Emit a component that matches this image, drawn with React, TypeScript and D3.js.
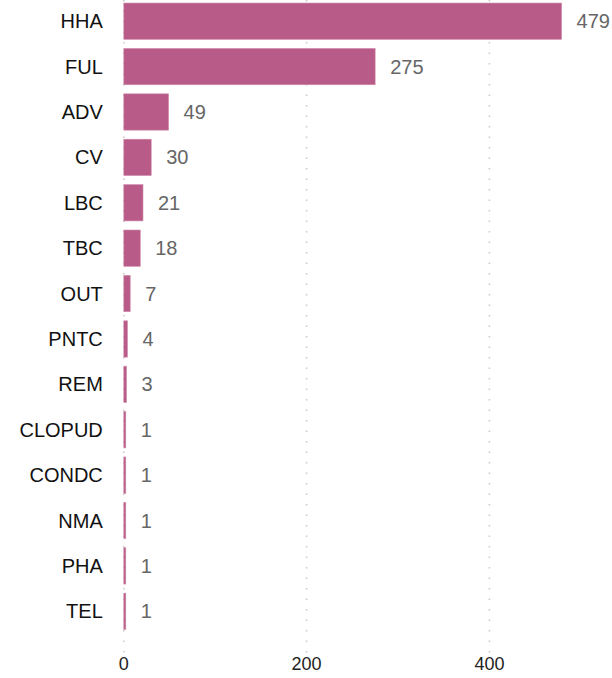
import React from "react";
import * as d3 from "d3";

const categories = ["HHA", "FUL", "ADV", "CV", "LBC", "TBC", "OUT", "PNTC", "REM", "CLOPUD", "CONDC", "NMA", "PHA", "TEL"];
const values = [479, 275, 49, 30, 21, 18, 7, 4, 3, 1, 1, 1, 1, 1];
const ticks = [0, 200, 400];

export default function App() {
  const W = 612, H = 678;
  const x = d3.scaleLinear().domain([0, 200]).range([123.8, 306.6]);
  const y = d3.scaleBand<string>().domain(categories).range([-1.5, 634]).paddingInner(0.2).paddingOuter(0.1);
  const font = "'Liberation Sans', Arial, sans-serif";
  return (
    <svg width={W} height={H} style={{ position: "absolute", left: 0, top: 0 }} fontFamily={font}>
      {ticks.map((t) => (
        <g key={t}>
          <line x1={x(t)} x2={x(t)} y1={0} y2={656} stroke="#c8c8c8" strokeWidth={1.5} strokeDasharray="1.5,9" />
          <text x={x(t)} y={670} textAnchor="middle" fontSize={18} fill="#222">{t}</text>
        </g>
      ))}
      {categories.map((c, i) => {
        const yy = y(c)!;
        const bw = y.bandwidth();
        const w = x(values[i]) - x(0);
        return (
          <g key={c}>
            <rect x={x(0)} y={yy} width={Math.max(w, 2)} height={bw} fill="#b95b88" stroke="#d08cab" strokeWidth={0.6} />
            <text x={x(0) - 21} y={yy + bw / 2} dy="0.35em" textAnchor="end" fontSize={20} fill="#111">{c}</text>
            <text x={x(0) + Math.max(w, 2) + 15} y={yy + bw / 2} dy="0.35em" textAnchor="start" fontSize={20} fill="#666">{values[i]}</text>
          </g>
        );
      })}
    </svg>
  );
}
